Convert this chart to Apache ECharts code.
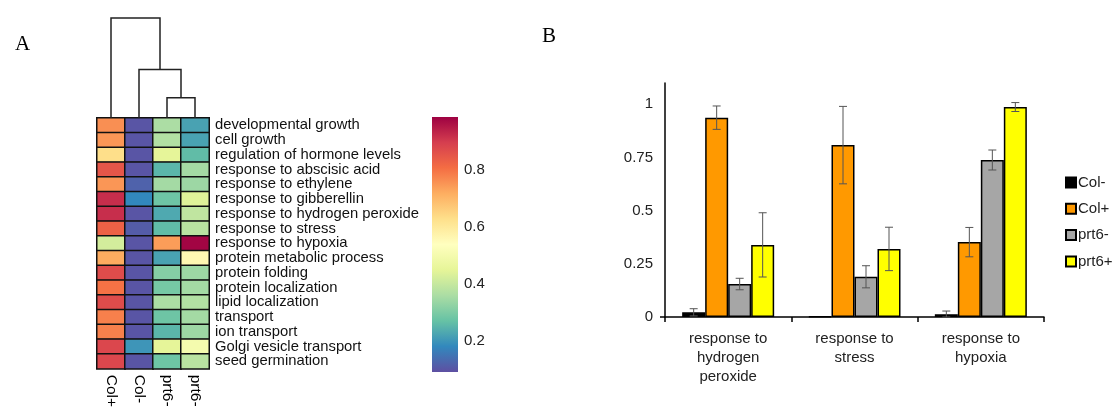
<!DOCTYPE html>
<html><head><meta charset="utf-8">
<script src="https://cdn.jsdelivr.net/npm/echarts@6/dist/echarts.min.js"></script>
<style>html,body{margin:0;padding:0;background:#fff}#c{width:1113px;height:410px}</style>
</head><body><div id="c"></div>
<script>
// ---------- Panel A data ----------
const heatCols = ['Col+', 'Col-', 'prt6-', 'prt6-'];
const heatRows = ['developmental growth','cell growth','regulation of hormone levels','response to abscisic acid',
  'response to ethylene','response to gibberellin','response to hydrogen peroxide','response to stress',
  'response to hypoxia','protein metabolic process','protein folding','protein localization',
  'lipid localization','transport','ion transport','Golgi vesicle transport','seed germination'];
const valColPlus  = [0.76,0.75,0.63,0.85,0.75,0.92,0.92,0.83,0.42,0.72,0.87,0.80,0.87,0.78,0.78,0.88,0.88];
const valColMinus = [0.10,0.10,0.10,0.10,0.12,0.18,0.10,0.11,0.10,0.10,0.10,0.10,0.10,0.10,0.10,0.20,0.10];
const valPrt6a    = [0.36,0.37,0.45,0.25,0.35,0.28,0.23,0.26,0.74,0.22,0.31,0.29,0.36,0.28,0.25,0.45,0.28];
const valPrt6b    = [0.22,0.22,0.26,0.35,0.34,0.44,0.39,0.38,0.98,0.56,0.34,0.35,0.37,0.35,0.34,0.50,0.38];
// dendrogram links: [leftX, rightX, height, leftChildHeight, rightChildHeight]
const dendroLinks = [[2, 3, 0.20, 0, 0], [1, 2.5, 0.48, 0, 0.20], [0, 1.75, 0.99, 0, 0.48]];
const colorMin = 0.09, colorMax = 0.986;
const colorbarTicks = [0.2, 0.4, 0.6, 0.8];
const spectral = ['#5e4fa2','#3288bd','#66c2a5','#abdda4','#e6f598','#ffffbf','#fee08b','#fdae61','#f46d43','#d53e4f','#9e0142'];

// ---------- Panel B data ----------
const barCats = ['response to\nhydrogen\nperoxide', 'response to\nstress', 'response to\nhypoxia'];
const seriesNames = ['Col-', 'Col+', 'prt6-', 'prt6+'];
const colMinusVals = [0.022, 0.003, 0.013];
const colMinusErr  = [0.017, 0.0, 0.015];
const colPlusVals  = [0.937, 0.808, 0.352];
const colPlusErr   = [0.055, 0.182, 0.069];
const prt6MinusVals = [0.155, 0.189, 0.738];
const prt6MinusErr  = [0.027, 0.052, 0.047];
const prt6PlusVals  = [0.339, 0.320, 0.987];
const prt6PlusErr   = [0.151, 0.102, 0.021];
const barYTicks = [0, 0.25, 0.5, 0.75, 1];

const barColors = ['#000000', '#ff9900', '#a6a6a6', '#ffff00'];
const FONT = 'Liberation Sans, Arial, sans-serif';

const heatData = [];
[valColPlus, valColMinus, valPrt6a, valPrt6b].forEach((arr, ci) => {
  arr.forEach((v, ri) => heatData.push([ci, ri, v]));
});

const allVals = [colMinusVals, colPlusVals, prt6MinusVals, prt6PlusVals];
const allErrs = [colMinusErr, colPlusErr, prt6MinusErr, prt6PlusErr];
const errData = [];
allVals.forEach((arr, si) => arr.forEach((v, ci) => errData.push([ci, v, allErrs[si][ci], si])));

const BAR_W = 23;
const chart = echarts.init(document.getElementById('c'), null, {renderer: 'canvas'});
chart.setOption({
  animation: false,
  backgroundColor: '#fff',
  title: [
    {text: 'A', left: 10, top: 29, textStyle: {fontFamily: 'Liberation Serif, Times New Roman, serif', fontSize: 21, fontWeight: 'normal', color: '#000'}},
    {text: 'B', left: 537, top: 21, textStyle: {fontFamily: 'Liberation Serif, Times New Roman, serif', fontSize: 21, fontWeight: 'normal', color: '#000'}}
  ],
  grid: [
    {left: 97, top: 118, width: 112, height: 252},
    {left: 97, top: 17, width: 112, height: 101},
    {left: 432, top: 117, width: 26, height: 255},
    {left: 665, top: 83, width: 379, height: 234}
  ],
  visualMap: {
    type: 'continuous', show: false, seriesIndex: 0, dimension: 2,
    min: colorMin, max: colorMax, inRange: {color: spectral}
  },
  xAxis: [
    {gridIndex: 0, type: 'category', data: heatCols, position: 'bottom',
     axisLine: {show: false}, axisTick: {show: false},
     axisLabel: {rotate: -90, margin: 6, fontSize: 15.5, color: '#000', fontFamily: FONT, interval: 0}},
    {gridIndex: 1, type: 'value', min: -0.5, max: 3.5, show: false},
    {gridIndex: 2, type: 'value', min: 0, max: 1, show: false},
    {gridIndex: 3, type: 'category', data: barCats,
     axisLine: {lineStyle: {color: '#000', width: 1.5}},
     axisTick: {show: true, length: 5, lineStyle: {color: '#000', width: 1.5}},
     axisLabel: {margin: 12, fontSize: 15, color: '#222', fontFamily: FONT, lineHeight: 19, interval: 0}}
  ],
  yAxis: [
    {gridIndex: 0, type: 'category', data: heatRows, inverse: true, position: 'right',
     axisLine: {show: false}, axisTick: {show: false},
     axisLabel: {margin: 6, fontSize: 14.8, color: '#111', fontFamily: FONT, interval: 0, padding: [4, 0, 0, 0]}},
    {gridIndex: 1, type: 'value', min: 0, max: 1, show: false},
    {gridIndex: 2, type: 'value', min: colorMin, max: colorMax, position: 'right',
     axisLine: {show: false}, axisTick: {show: false}, splitLine: {show: false},
     axisLabel: {customValues: colorbarTicks, margin: 6, fontSize: 15, color: '#222', fontFamily: FONT,
                 formatter: v => v.toFixed(1)}},
    {gridIndex: 3, type: 'value', min: 0, max: 1.1, interval: 0.25,
     axisLine: {show: true, lineStyle: {color: '#000', width: 1.5}},
     axisTick: {show: true, customValues: [0], length: 5, lineStyle: {color: '#000', width: 1.5}},
     splitLine: {show: false},
     axisLabel: {customValues: barYTicks, margin: 12, fontSize: 15, color: '#222', fontFamily: FONT,
                 formatter: v => String(v)}}
  ],
  legend: {
    orient: 'vertical', left: 1060, top: 170, itemWidth: 10, itemHeight: 10, itemGap: 11.3,
    data: seriesNames, icon: 'rect',
    textStyle: {fontSize: 15, color: '#222', fontFamily: FONT, padding: [0, 0, 0, -3]}
  },
  series: [
    {type: 'heatmap', xAxisIndex: 0, yAxisIndex: 0, data: heatData,
     itemStyle: {borderColor: '#111', borderWidth: 1.5}, emphasis: {disabled: true}},
    {type: 'custom', xAxisIndex: 1, yAxisIndex: 1, data: dendroLinks, silent: true,
     renderItem: (params, api) => {
       const xl = api.value(0), xr = api.value(1), h = api.value(2), hl = api.value(3), hr = api.value(4);
       const p1 = api.coord([xl, hl]), p2 = api.coord([xl, h]), p3 = api.coord([xr, h]), p4 = api.coord([xr, hr]);
       return {type: 'polyline', shape: {points: [p1, p2, p3, p4]},
               style: {stroke: '#222', lineWidth: 1.5, fill: null}};
     }},
    {type: 'custom', xAxisIndex: 2, yAxisIndex: 2, data: [[colorMin, colorMax]], silent: true,
     renderItem: (params, api) => {
       const tl = api.coord([0, api.value(1)]), br = api.coord([1, api.value(0)]);
       const stops = spectral.slice().reverse().map((c, i, a) => ({offset: i / (a.length - 1), color: c}));
       return {type: 'rect', shape: {x: tl[0], y: tl[1], width: br[0] - tl[0], height: br[1] - tl[1]},
               style: {fill: new echarts.graphic.LinearGradient(0, 0, 0, 1, stops)}};
     }},
    ...seriesNames.map((name, si) => ({
      name, type: 'bar', xAxisIndex: 3, yAxisIndex: 3, data: allVals[si],
      barWidth: BAR_W, barGap: '0%',
      itemStyle: {color: barColors[si], borderColor: '#000', borderWidth: 1.5}
    })),
    {type: 'custom', xAxisIndex: 3, yAxisIndex: 3, data: errData, silent: true, z: 10,
     renderItem: (params, api) => {
       const ci = api.value(0), v = api.value(1), e = api.value(2), si = api.value(3);
       if (!e) return null;
       const base = api.coord([ci, v]);
       const x = base[0] + (si - 1.5) * BAR_W;
       const yt = api.coord([ci, v + e])[1], yb = api.coord([ci, Math.max(0, v - e)])[1];
       const cap = 4;
       const st = {stroke: '#555', lineWidth: 1};
       return {type: 'group', children: [
         {type: 'line', shape: {x1: x, y1: yt, x2: x, y2: yb}, style: st},
         {type: 'line', shape: {x1: x - cap, y1: yt, x2: x + cap, y2: yt}, style: st},
         {type: 'line', shape: {x1: x - cap, y1: yb, x2: x + cap, y2: yb}, style: st}
       ]};
     }}
  ]
});
</script></body></html>
